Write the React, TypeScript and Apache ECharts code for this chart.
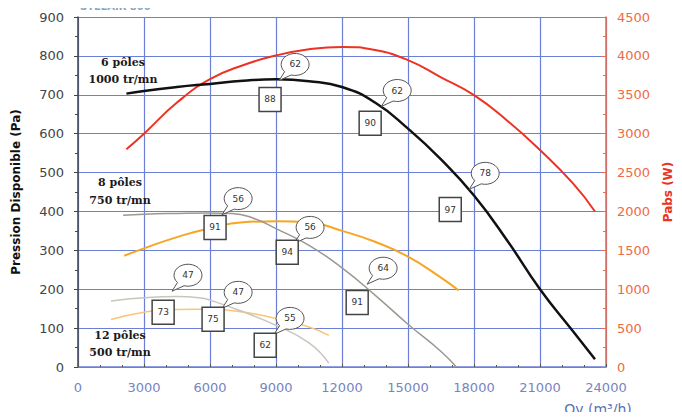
import React, { useEffect, useRef } from 'react';
import * as echarts from 'echarts';

// ---- data ----
const flowTicks = [0, 3000, 6000, 9000, 12000, 15000, 18000, 21000, 24000];

const pole6Flow = [2200, 3000, 4500, 6000, 7500, 9000, 10500, 12000, 13500, 15000, 16500, 18000, 19500, 21000, 22500, 23500];
const pole6Pressure = [703, 710, 720, 728, 736, 740, 735, 720, 680, 613, 534, 441, 326, 200, 92, 20];
const pole6Power = [2800, 3000, 3400, 3700, 3880, 4005, 4085, 4115, 4075, 3945, 3725, 3495, 3170, 2790, 2360, 2000];

const pole8Flow = [2050, 3000, 4500, 6000, 7000, 8000, 9000, 10500, 12000, 13500, 15000, 16500, 17200];
const pole8Pressure = [390, 393, 395, 396, 395, 382, 356, 313, 255, 185, 110, 40, 0];
const pole8PowerFlow = [2100, 3000, 4500, 6000, 7500, 9000, 10500, 12000, 13500, 15000, 16500, 17300];
const pole8Power = [1430, 1525, 1670, 1785, 1860, 1875, 1860, 1750, 1610, 1420, 1150, 985];

const pole12Flow = [1500, 3000, 4500, 5500, 6000, 7500, 9000, 10500, 11400];
const pole12Pressure = [170, 178, 181, 178, 172, 142, 107, 62, 10];
const pole12PowerFlow = [1500, 3000, 4500, 6000, 7500, 9000, 10500, 11400];
const pole12Power = [610, 705, 740, 742, 707, 622, 514, 407];

// annotations: bubbles (sound level) and boxes (efficiency), placed in data units
const bubbleLabels = ['62', '62', '78', '56', '56', '64', '47', '47', '55'];
const bubbleFlow = [9870, 14510, 18510, 7280, 10550, 13870, 5000, 7280, 9640];
const bubblePressure = [778, 711, 498, 433, 359, 254, 236, 192, 125];

const boxLabels = ['88', '90', '97', '91', '94', '91', '73', '75', '62'];
const boxFlow = [8730, 13280, 16920, 6230, 9510, 12690, 3870, 6140, 8510];
const boxPressure = [688, 627, 405, 359, 295, 166, 141, 123, 56];

const poleLabels = [
  ['6 pôles', '1000 tr/mn'],
  ['8 pôles', '750 tr/mn'],
  ['12 pôles', '500 tr/mn'],
];

const zip = (xs: number[], ys: number[]) => xs.map((x, i) => [x, ys[i]]);

const BUBBLE_D = 'M -4 10.54 A 14 11 0 1 0 -10.5 7.28 L -16 16 Z';
echarts.graphic.registerShape('callBubble', echarts.graphic.extendPath(BUBBLE_D, {}));

const GRID_BLUE = '#6b7fd7';
const RED = '#ec3322';
const plain = (v: number) => String(v);

export default function App() {
  const ref = useRef<HTMLDivElement>(null);

  useEffect(() => {
    if (!ref.current) return;
    const chart = echarts.init(ref.current, null, { renderer: 'svg' });
    const line = (name: string, data: number[][], color: string, width: number, yAxisIndex: number, z: number) => ({
      name,
      type: 'line',
      data,
      yAxisIndex,
      smooth: true,
      showSymbol: false,
      symbol: 'none',
      z,
      lineStyle: { color, width },
    });
    const option: any = {
      animation: false,
      backgroundColor: '#ffffff',
      grid: { left: 78, right: 76, top: 17, bottom: 53, containLabel: false },
      xAxis: {
        type: 'value',
        min: flowTicks[0],
        max: flowTicks[flowTicks.length - 1],
        interval: flowTicks[1] - flowTicks[0],
        axisLine: { show: true, lineStyle: { color: GRID_BLUE, width: 1.5 } },
        axisTick: { show: true, inside: true, length: 3, lineStyle: { color: '#555' } },
        minorTick: { show: true, splitNumber: 3, length: 2, lineStyle: { color: '#555' } },
        axisLabel: { color: '#7884c0', fontSize: 13, fontFamily: 'DejaVu Sans', margin: 14, formatter: plain },
        splitLine: { show: true, lineStyle: { color: GRID_BLUE, width: 1.2 } },
      },
      yAxis: [
        {
          type: 'value',
          min: 0,
          max: 900,
          interval: 100,
          name: 'Pression Disponible (Pa)',
          nameLocation: 'middle',
          nameRotate: 90,
          nameGap: 56,
          nameTextStyle: { color: '#111', fontSize: 12, fontWeight: 'bold', fontFamily: 'DejaVu Sans' },
          axisLine: { show: true, lineStyle: { color: '#444', width: 1.5 } },
          axisTick: { show: true, length: 4, lineStyle: { color: '#444' } },
          minorTick: { show: true, splitNumber: 2, length: 3, lineStyle: { color: '#444' } },
          axisLabel: { color: '#444', fontSize: 13, fontFamily: 'DejaVu Sans', margin: 14, formatter: plain },
          splitLine: { show: true, lineStyle: { color: GRID_BLUE, width: 1.2 } },
        },
        {
          type: 'value',
          position: 'right',
          min: 0,
          max: 4500,
          interval: 500,
          name: 'Pabs (W)',
          nameLocation: 'middle',
          nameRotate: 90,
          nameGap: 56,
          nameTextStyle: { color: RED, fontSize: 12, fontWeight: 'bold', fontFamily: 'DejaVu Sans' },
          axisLine: { show: true, lineStyle: { color: '#f06a45', width: 1.5 } },
          axisTick: { show: true, inside: true, length: 5, lineStyle: { color: '#f06a45' } },
          minorTick: { show: true, splitNumber: 2, length: 3, lineStyle: { color: '#f06a45' } },
          axisLabel: { color: '#f06a45', fontSize: 13, fontFamily: 'DejaVu Sans', margin: 11, formatter: plain },
          splitLine: { show: false },
        },
      ],
      series: [
        line('12 pôles Pabs', zip(pole12PowerFlow, pole12Power), '#f9c57a', 1.5, 1, 2),
        line('12 pôles Pression', zip(pole12Flow, pole12Pressure), '#c9c5bd', 1.5, 0, 2),
        line('8 pôles Pabs', zip(pole8PowerFlow, pole8Power), '#f5a623', 2, 1, 3),
        line('8 pôles Pression', zip(pole8Flow, pole8Pressure), '#9c9890', 1.5, 0, 3),
        line('6 pôles Pabs', zip(pole6Flow, pole6Power), RED, 2, 1, 4),
        line('6 pôles Pression', zip(pole6Flow, pole6Pressure), '#111111', 2.5, 0, 5),
      ],
    };
    chart.setOption(option);

    const toPx = (x: number, y: number) =>
      chart.convertToPixel({ xAxisIndex: 0, yAxisIndex: 0 }, [x, y]) as number[];

    const elements: any[] = [];
    bubbleLabels.forEach((t, i) => {
      const [px, py] = toPx(bubbleFlow[i], bubblePressure[i]);
      elements.push({
        type: 'callBubble', x: px, y: py, z: 100,
        style: { fill: '#ffffff', stroke: '#555', lineWidth: 1 },
      });
      elements.push({
        type: 'text', x: px, y: py, z: 101,
        style: { text: t, fill: '#333', font: '9px DejaVu Sans', align: 'center', verticalAlign: 'middle' },
      });
    });
    boxLabels.forEach((t, i) => {
      const [px, py] = toPx(boxFlow[i], boxPressure[i]);
      elements.push({
        type: 'rect', z: 100,
        shape: { x: px - 11, y: py - 12, width: 22, height: 24 },
        style: { fill: '#ffffff', stroke: '#444', lineWidth: 1.5 },
      });
      elements.push({
        type: 'text', x: px, y: py, z: 101,
        style: { text: t, fill: '#333', font: '9px DejaVu Sans', align: 'center', verticalAlign: 'middle' },
      });
    });
    const labelPos = [
      [123, 62, 79],
      [120, 182, 200],
      [120, 335, 352],
    ];
    poleLabels.forEach((lines, i) => {
      const [lx, y1, y2] = labelPos[i];
      [y1, y2].forEach((yy, j) => {
        elements.push({
          type: 'text', x: lx, y: yy, z: 100,
          style: { text: lines[j], fill: '#1a1a1a', font: 'bold 11px DejaVu Serif', align: 'center', verticalAlign: 'middle' },
        });
      });
    });
    elements.push({
      type: 'text', x: 80, y: 1, z: 100,
      style: { text: 'STELAIR 800', fill: '#86a6c2', font: 'bold 10px DejaVu Sans', align: 'left', verticalAlign: 'top' },
    });
    elements.push({
      type: 'text', x: 598, y: 402, z: 100,
      style: { text: 'Qv (m³/h)', fill: '#5a6fb8', font: '14px DejaVu Sans', align: 'center', verticalAlign: 'top' },
    });
    chart.setOption({ graphic: elements });

    return () => chart.dispose();
  }, []);

  return <div ref={ref} style={{ width: 682, height: 420, margin: -8 }} />;
}
